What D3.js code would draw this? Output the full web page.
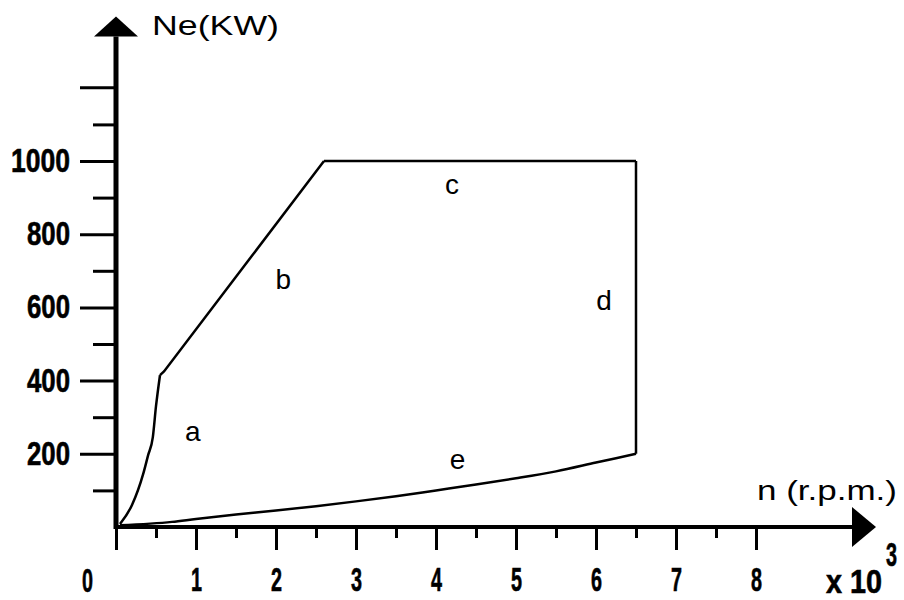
<!DOCTYPE html>
<html lang="en">
    <head>
        <meta charset="utf-8"/>
        <script src="https://d3js.org/d3.v7.min.js"></script>
        <style>
            body { margin: 0; background: #fff; }
            .num { font-family: "Liberation Sans", Arial, sans-serif; font-weight: bold; font-size: 33px; stroke: #000; stroke-width: 0.6px; }
            .lbl { font-family: "Liberation Sans", Arial, sans-serif; font-size: 28px; }
        </style>
    </head>
    <body>
        <div id="chart"></div>
    </body>
    <script>
        // values (n in 10^3 r.p.m., Ne in kW)
        var yTickValues = [200, 400, 600, 800, 1000];
        var yMinorValues = [100, 300, 500, 700, 900, 1100];
        var xTickValues = [0, 1, 2, 3, 4, 5, 6, 7, 8];
        var xMinorValues = [0.5, 1.5, 2.5, 3.5, 4.5, 5.5, 6.5, 7.5];

        // curve a (steep rise from idle)
        var curveA = [[0.05, 8], [0.2, 60], [0.34, 145], [0.4, 195], [0.46, 245], [0.5, 330], [0.55, 415]];
        // curve b (linear climb to max power)
        var curveB = [[0.55, 415], [0.6, 425], [2.6, 1000]];
        // curve c (max power plateau) and d (max rpm drop)
        var curveC = [[2.6, 1000], [6.5, 1000]];
        var curveD = [[6.5, 1000], [6.5, 200]];
        // curve e (lower boundary)
        var curveE = [[0.05, 5], [0.7, 14], [1, 22], [1.5, 34], [2, 45], [2.5, 57], [3, 70], [3.5, 84],
                      [4, 100], [4.5, 116], [5, 133], [5.5, 152], [6, 176], [6.5, 200]];

        var curveLabels = [
            {t: "a", n: 0.96, v: 258},
            {t: "b", n: 2.09, v: 672},
            {t: "c", n: 4.2, v: 932},
            {t: "d", n: 6.1, v: 617},
            {t: "e", n: 4.27, v: 182}
        ];

        var width = 904, height = 600;
        var charW = 16;  // narrow bitmap-like digits

        var svg = d3.select("#chart")
            .append("svg")
                .attr("width", width)
                .attr("height", height)

        var x = d3.scaleLinear().domain([0, 1]).range([116, 196])
        var y = d3.scaleLinear().domain([0, 1000]).range([527, 161])

        function squeeze(sel) {
            sel.attr("class", "num")
                .attr("fill", "#000")
                .attr("lengthAdjust", "spacingAndGlyphs")
                .attr("textLength", function () { return this.textContent.length * charW - 5; })
        }

        // y axis: major ticks with labels, minor ticks without
        svg.append("g")
            .attr("transform", "translate(" + x(0) + ",0)")
            .call(d3.axisLeft(y).tickValues(yTickValues).tickSize(36).tickPadding(10).tickFormat(d3.format("d")))
            .call(function (g) { g.select(".domain").remove(); })
            .call(function (g) { g.selectAll("line").attr("stroke-width", 3); })
            .call(function (g) { g.selectAll("text").call(squeeze); })

        svg.append("g")
            .attr("transform", "translate(" + x(0) + ",0)")
            .call(d3.axisLeft(y).tickValues(yMinorValues).tickSize(23).tickFormat(""))
            .call(function (g) { g.select(".domain").remove(); })
            .call(function (g) { g.selectAll("line").attr("stroke-width", 3); })
        // the 1200 tick is long
        svg.append("line")
            .attr("x1", x(0) - 36).attr("x2", x(0))
            .attr("y1", y(1200)).attr("y2", y(1200))
            .attr("stroke", "#000").attr("stroke-width", 3)

        // x axis
        svg.append("g")
            .attr("transform", "translate(0," + y(0) + ")")
            .call(d3.axisBottom(x).tickValues(xTickValues).tickSize(23).tickPadding(18).tickFormat(function (d) { return d === 0 ? "" : d; }))
            .call(function (g) { g.select(".domain").remove(); })
            .call(function (g) { g.selectAll("line").attr("stroke-width", 3); })
            .call(function (g) { g.selectAll("text").call(squeeze); })

        svg.append("g")
            .attr("transform", "translate(0," + y(0) + ")")
            .call(d3.axisBottom(x).tickValues(xMinorValues).tickSize(11).tickFormat(""))
            .call(function (g) { g.select(".domain").remove(); })
            .call(function (g) { g.selectAll("line").attr("stroke-width", 3); })

        // axis lines with arrows
        svg.append("line")
            .attr("x1", x(0)).attr("x2", x(9.2))
            .attr("y1", y(0)).attr("y2", y(0))
            .attr("stroke", "#000").attr("stroke-width", 4)
        svg.append("path")
            .attr("d", "M" + x(9.2) + "," + (y(0) - 20) + "L" + x(9.5) + "," + y(0) + "L" + x(9.2) + "," + (y(0) + 20) + "Z")
            .attr("fill", "#000")

        svg.append("line")
            .attr("x1", x(0)).attr("x2", x(0))
            .attr("y1", y(0) + 2).attr("y2", y(1340))
            .attr("stroke", "#000").attr("stroke-width", 5)
        svg.append("path")
            .attr("d", "M" + (x(0) - 22) + "," + y(1340) + "L" + x(0) + "," + y(1395) + "L" + (x(0) + 22) + "," + y(1340) + "Z")
            .attr("fill", "#000")

        // axis titles
        svg.append("text").attr("class", "lbl")
            .attr("x", 152).attr("y", 35)
            .attr("textLength", 127).attr("lengthAdjust", "spacingAndGlyphs")
            .text("Ne(KW)")
        svg.append("text").attr("class", "lbl")
            .attr("x", 757).attr("y", 500)
            .attr("textLength", 140).attr("lengthAdjust", "spacingAndGlyphs")
            .style("font-size", "27px")
            .text("n (r.p.m.)")

        svg.append("text")
            .attr("x", 82).attr("y", 592)
            .text("0").call(squeeze)
        svg.append("text")
            .attr("x", 826).attr("y", 593)
            .text("x 10").call(squeeze)
            .attr("textLength", 56)
        svg.append("text")
            .attr("x", 886).attr("y", 566)
            .text("3").call(squeeze)

        // curves
        var smooth = d3.line()
            .curve(d3.curveMonotoneX)
            .x(function (d) { return x(d[0]); })
            .y(function (d) { return y(d[1]); })
        var straight = d3.line()
            .x(function (d) { return x(d[0]); })
            .y(function (d) { return y(d[1]); })

        var curves = [
            {pts: curveA, gen: smooth},
            {pts: curveB, gen: straight},
            {pts: curveC, gen: straight},
            {pts: curveD, gen: straight},
            {pts: curveE, gen: smooth}
        ];
        svg.selectAll("path.curve")
            .data(curves)
            .enter()
            .append("path")
                .attr("class", "curve")
                .attr("d", function (d) { return d.gen(d.pts); })
                .attr("fill", "none")
                .attr("stroke", "#000")
                .attr("stroke-width", 2.5)

        svg.selectAll("text.cl")
            .data(curveLabels)
            .enter()
            .append("text")
                .attr("class", "lbl cl")
                .attr("x", function (d) { return x(d.n); })
                .attr("y", function (d) { return y(d.v); })
                .attr("dy", "0.3em")
                .attr("text-anchor", "middle")
                .text(function (d) { return d.t; })
    </script>
</html>
